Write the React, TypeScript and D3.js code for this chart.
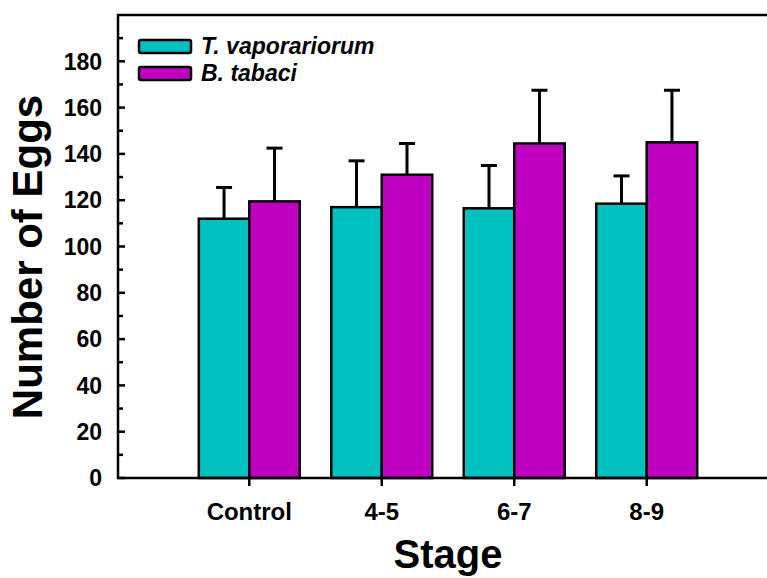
import React from 'react'
import * as d3 from 'd3'

const stages = ['Control', '4-5', '6-7', '8-9']
const seriesNames = ['T. vaporariorum', 'B. tabaci']
const vaporariorum = [112, 117, 116.5, 118.5]
const vaporariorumErr = [13.5, 20, 18.5, 12]
const tabaci = [119.5, 131, 144.5, 145]
const tabaciErr = [23, 13.5, 23, 22.5]
const yTicks = [0, 20, 40, 60, 80, 100, 120, 140, 160, 180]
const yMinor = [10, 30, 50, 70, 90, 110, 130, 150, 170, 190]

const colors = ['#00c0c0', '#c000c0']
const font = 'Liberation Sans, Arial, Helvetica, sans-serif'

const W = 767
const H = 578
const left = 118
const right = 778
const top = 15
const bottom = 478

export default function App() {
  const x = d3.scaleBand<string>()
    .domain(stages)
    .range([left, right])
    .paddingInner(0.238)
    .paddingOuter(0.61)
  const inner = d3.scaleBand<string>()
    .domain(seriesNames)
    .range([0, x.bandwidth()])
  const y = d3.scaleLinear().domain([0, 200]).range([bottom, top])

  const series = [
    { name: seriesNames[0], values: vaporariorum, errs: vaporariorumErr, color: colors[0] },
    { name: seriesNames[1], values: tabaci, errs: tabaciErr, color: colors[1] },
  ]

  return (
    <svg width={W} height={H} style={{ position: 'absolute', left: 0, top: 0, display: 'block', background: '#fff' }}>
      {/* error bars (upward only) drawn behind bars */}
      {series.map(s => s.values.map((v, i) => {
        const cx = (x(stages[i]) ?? 0) + (inner(s.name) ?? 0) + inner.bandwidth() / 2
        const yTop = y(v + s.errs[i])
        return (
          <g key={s.name + i} stroke="#000" strokeWidth={3}>
            <line x1={cx} x2={cx} y1={y(v)} y2={yTop} />
            <line x1={cx - 8} x2={cx + 8} y1={yTop} y2={yTop} />
          </g>
        )
      }))}

      {/* bars */}
      {series.map(s => s.values.map((v, i) => (
        <rect key={'b' + s.name + i}
          x={(x(stages[i]) ?? 0) + (inner(s.name) ?? 0)}
          y={y(v)}
          width={inner.bandwidth()}
          height={bottom - y(v)}
          fill={s.color} stroke="#000" strokeWidth={2.5} />
      )))}

      {/* frame */}
      <rect x={left} y={top} width={right - left} height={bottom - top} fill="none" stroke="#000" strokeWidth={2.5} />

      {/* y ticks */}
      {yTicks.map(t => (
        <g key={'yt' + t}>
          <line x1={left} x2={left + 7} y1={y(t)} y2={y(t)} stroke="#000" strokeWidth={2.5} />
          <text x={102} y={y(t)} dy="0.36em" textAnchor="end" fontFamily={font} fontWeight="bold" fontSize={23}>{t}</text>
        </g>
      ))}
      {yMinor.map(t => (
        <line key={'ym' + t} x1={left} x2={left + 5} y1={y(t)} y2={y(t)} stroke="#000" strokeWidth={2.5} />
      ))}

      {/* x ticks */}
      {stages.map(c => {
        const cx = (x(c) ?? 0) + x.bandwidth() / 2
        return (
          <g key={'xt' + c}>
            <line x1={cx} x2={cx} y1={bottom} y2={bottom + 8} stroke="#000" strokeWidth={2.5} />
            <text x={cx} y={520} textAnchor="middle" fontFamily={font} fontWeight="bold" fontSize={24}>{c}</text>
          </g>
        )
      })}

      {/* axis titles */}
      <text x={(left + right) / 2} y={568} textAnchor="middle" fontFamily={font} fontWeight="bold" fontSize={40}>Stage</text>
      <text transform="translate(42,257) rotate(-90)" textAnchor="middle" fontFamily={font} fontWeight="bold" fontSize={42}>Number of Eggs</text>

      {/* legend */}
      {series.map((s, i) => (
        <g key={'lg' + s.name} transform={`translate(139,${40 + i * 27})`}>
          <rect x={0} y={0} width={52} height={13} rx={2} fill={s.color} stroke="#000" strokeWidth={2.5} />
          <text x={62} y={14} fontFamily={font} fontWeight="bold" fontStyle="italic" fontSize={23}>{s.name}</text>
        </g>
      ))}
    </svg>
  )
}
